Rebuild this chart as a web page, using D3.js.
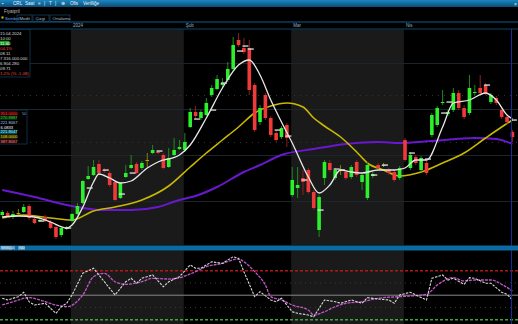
<!DOCTYPE html>
<html lang="tr">
<head>
<meta charset="UTF-8">
<title>Grafik</title>
<script src="https://d3js.org/d3.v7.min.js"></script>
<style>
  html, body { margin: 0; padding: 0; background: #000; overflow: hidden; }
  svg { display: block; font-family: "Liberation Sans", Arial, sans-serif; }
</style>
</head>
<body>
<div id="chart"></div>
<script>
// mum verileri (gunluk)
const opens = [114,115,113,115,115.5,118.5,112,111,113,110.5, 108,104,107,111,114.5,120,132,134,139.5,136.5,
  135,130.5,122.5,133,137.5,139.5,137.5,141.5,145,145.5, 144,138,144,147,146.5,158,165.5,162.5,164,174,
  177,179,181.5,187,201.5,197.5,197.5,179,160.5,174, 162.5,155,153,159,124,127.5,132.5,136.5,125.5,106.5,
  132.5,140,132.5,136.5,135.5,133,140.5,130.5,122.5,133.5, 139,139,136.5,135.5,132.5,151.5,137.5,143,136.5,140,
  154,159,170,164.5,166.5,175,167.5,165,175,177.5, 179,170.5,172.5,166.5,163,155.5];
const highs = [116.5,116,116,117,119.5,119.5,113,112.5,114,111.5, 109,108.5,108.5,115,120,131.5,138.5,141.5,141.5,137.5,
  136,131.5,130.5,139,144,140.5,141,145,149,146.5, 145,147.5,152.5,151.5,155,167.5,168.5,166.5,172.5,179,
  184,182.5,190.5,203,205,202.5,201.5,180,169,175, 163.5,156.5,158.5,160,138,138,136.5,137.5,126.5,124,
  141.5,141.5,137.5,139,136.5,139,141.5,135,140.5,135.5, 140,140,137.5,136.5,138.5,152.5,145.5,144,143.5,141,
  165,168.5,176.5,166.5,177.5,176.5,169,184,179,184, 180,175,173.5,167.5,164,156.5];
const lows = [113,112.5,112,113.5,115,111.5,109.5,110.5,110.5,107, 102,103,106.5,110.5,114,119.5,131.5,133.5,134,135,
  128,121,122,132.5,137,134.5,136.5,138,144.5,144.5, 137,137.5,143.5,146.5,145.5,157.5,162,161.5,163.5,173,
  176.5,177.5,180.5,186,198,194.5,174,155.5,159,161.5, 153,150.5,152,148,123,122.5,124,124.5,116.5,103,
  129,135.5,131.5,134,131.5,132,133,126.5,121.5,132.5, 136.5,138,134,130.5,131.5,140.5,136.5,139,135.5,134,
  153,158,169,163.5,165.5,166.5,162,164,174,174, 174,169.5,169,162,159.5,150.5];
const closes = [115.5,113.5,114.5,115,118,112.5,110,111.5,111,107.5, 103,107.5,107.5,114.5,118.5,131,133.5,138,135,136,
  129,121.5,130,135,139,135,140,141.5,146.5,145, 137.5,142.5,146.5,148,150.5,165.5,163.5,165.5,170,177.5,
  182,180,187,199,199,195.5,176.5,156.5,167.5,162.5, 154,151.5,157.5,152.5,131.5,129,130.5,125.5,117.5,123,
  140.5,136.5,136.5,136.5,132.5,138,134,134,139,134.5, 137.5,139,135,131.5,137.5,141.5,144,140,142.5,135,
  164,167.5,170.5,165.5,175,167.5,163,177.5,175.5,175, 175,174,170,163,160.5,153];

// beyaz isaretler [gun, fiyat]
const marks = [[7,111],[12,107.5],[16,127.5],[19,136.5],[22,124.5],[24,135],[29,146],[36,162],[39,166.5],[41,180],
  [44,196],[45,198.5],[46,197],[51,156.5],[53,153.5],[56,131.5],[59,116.5],[62,137],[63,136.5],[69,134],
  [71,139],[76,145],[79,142],[82,165],[83,170.5],[90,179],[95,161.5]];

// hareketli ortalamalar [gun, deger]
const maFast = [[0,113],[3,113.5],[6,113],[9,110.5],[12,107.5],[13,109],[15,118],[17,130.5],[18,134.5],[20,132.5],
  [22,130],[24,131],[27,137.5],[29,140.5],[33,144],[35,149],[38,162.5],[41,177.5],[44,189],[46,191.5],
  [48,184],[50,171.5],[52,160.5],[54,150],[57,133],[59,125],[61,129],[63,136.5],[65,135.5],[67,135],
  [70,136.5],[73,136.5],[75,137.5],[77,141.5],[79,141.5],[82,158],[84,170],[87,171.5],[90,175],[92,171.5],[94,164],[95,162]];
const maMid = [[0,112.5],[4,114],[9,112.5],[13,111.5],[17,116],[21,118],[26,121.5],[31,128.5],[35,138],[38,145],
  [41,151.5],[44,158],[47,165],[50,168.5],[53,170],[56,168],[58,162.5],[60,158.5],[63,153],[66,145.5],
  [68,140],[71,136.5],[74,133.5],[78,135.5],[82,140],[86,145],[90,152.5],[93,158],[95,161.5]];
const maSlow = [[0,126.5],[6,123],[12,119],[15,117.5],[18,116.5],[24,116.5],[29,118],[33,121.5],[36,123.5],[40,128],
  [45,135.5],[48,139],[52,144],[58,147],[64,149.5],[70,150.5],[74,150],[80,151],[88,152.5],[92,152],[95,149.5]];

// osilator [gun, deger]
const oscMain = [[0,47.5],[1,46.1],[3,48.8],[4,52.4],[5,44.7],[6,42],[8,43.4],[10,35.2],[11,40.6],[12,43.4],
  [13,50.2],[15,67.9],[17,72],[18,66.5],[20,55.6],[21,50.2],[23,61],[24,63.8],[25,59.7],[26,63.8],
  [28,66.5],[30,56.9],[31,61],[33,65.1],[35,74.7],[36,72],[37,72],[39,77.3],[41,76],[43,81.4],
  [44,80.1],[45,69.2],[47,48.8],[48,52.9],[50,46.1],[51,44.7],[52,47.5],[54,36.5],[55,35.2],[57,33.8],
  [58,32.4],[60,46.1],[62,44.7],[63,43.4],[65,46.1],[67,43.4],[68,48],[70,46.9],[72,46.1],[73,43.4],
  [74,50.2],[76,52.4],[77,50.2],[79,46.1],[80,63.8],[82,66.5],[83,62.4],[84,63.8],[86,58.9],[87,64.3],
  [88,63.8],[90,59.7],[91,59.7],[93,52.4],[94,50.7],[95,46.1]];
const oscSignal = [[0,42],[2,44.7],[5,48],[7,46.1],[10,42],[12,40.6],[15,50.2],[17,65.1],[19,67.9],[21,61],
  [23,58.9],[26,61],[28,63.8],[31,63.2],[33,64.3],[36,69.2],[38,73.3],[41,76],[44,79.6],[45,77.3],
  [47,69.2],[49,58.3],[50,48.8],[52,46.1],[54,42],[57,37.9],[58,33.8],[60,36.5],[62,40.6],[64,43.4],
  [67,44.7],[70,47.5],[74,48.8],[79,50.7],[81,58.3],[84,64.3],[86,61.6],[88,62.4],[91,62.4],[93,58.9],[95,53.4]];
const oscLevels = [70, 50, 30];
const oscDotted = [60, 40];

// eksen
const monthLabels = ["2024", "Şub", "Mar", "Nis"];
const monthStarts = [13, 34, 54, 75];
const gridPrices = [190, 167, 144, 121];
const dotPrices = [174, 150.5];

const infoLines = ["15.04.2024", "10:00", "11.60", "04.1%", "08.11", "7.316.000.000", "6.904.280", "09.71", "1.2% (% -1.08)"];
const infoColors = ["#ddd", "#ddd", "#fff", "#ff4040", "#ddd", "#ddd", "#ddd", "#ddd", "#ff4040"];
const infoBg = [null, null, "#16a016", null, null, null, null, null, null];
const legendLines = ["351.0000", "270.8887", "221.8067", "6.0833", "221.8047", "108.0000", "387.8067"];
const legendColors = ["#ff3030", "#30d030", "#a0c8ff", "#fff", "#9ff", "#e0d020", "#ff8080"];
const legendBg = ["#3a0000", "#0a2a0a", null, null, "#0a4a5a", "#2a2a00", "#2a0a0a"];

const W = 518, H = 324;
const N = opens.length;

const svg = d3.select("#chart").append("svg")
  .attr("width", W)
  .attr("height", H);

const defs = svg.append("defs");
const grad = defs.append("linearGradient").attr("id", "bar").attr("x1", 0).attr("x2", 0).attr("y1", 0).attr("y2", 1);
grad.append("stop").attr("offset", "0%").attr("stop-color", "#1c86c0");
grad.append("stop").attr("offset", "100%").attr("stop-color", "#0a4d78");
defs.append("clipPath").attr("id", "clipMain").append("rect").attr("x", 0).attr("y", 29.5).attr("width", W).attr("height", 215.5);
defs.append("clipPath").attr("id", "clipOsc").append("rect").attr("x", 0).attr("y", 250.5).attr("width", W).attr("height", 74);

svg.append("rect").attr("width", W).attr("height", H).attr("fill", "#000");

const x = d3.scaleLinear().domain([0, N - 1]).range([2.26, 2.26 + (N - 1) * 5.37]);
const y = d3.scaleLinear().domain([100, 207]).range([243, 29]);
const yo = d3.scaleLinear().domain([30, 70]).range([319.7, 270.7]);

// ay bantlari
const bands = monthStarts.map((s, k) => ({
  x0: x(s - 0.2),
  x1: k < monthStarts.length - 1 ? x(monthStarts[k + 1] - 0.2) : W,
  k: k
}));
[[29.5, 245], [250.5, 324]].forEach(([t, b]) => {
  svg.selectAll(null)
    .data(bands.filter(d => d.k % 2 === 0))
    .enter()
    .append("rect")
    .attr("x", d => d.x0)
    .attr("y", t)
    .attr("width", d => d.x1 - d.x0)
    .attr("height", b - t)
    .attr("fill", "#1a1a1a");
});

// izgara
svg.selectAll(".grid")
  .data(gridPrices)
  .enter()
  .append("line")
  .attr("x1", 0).attr("x2", W)
  .attr("y1", d => Math.round(y(d)) + 0.5)
  .attr("y2", d => Math.round(y(d)) + 0.5)
  .attr("stroke", "#1d252c")
  .attr("stroke-width", 1);

svg.selectAll(".dotg")
  .data(dotPrices)
  .enter()
  .append("line")
  .attr("x1", 0).attr("x2", W)
  .attr("y1", d => Math.round(y(d)) + 0.5)
  .attr("y2", d => Math.round(y(d)) + 0.5)
  .attr("stroke", "#333")
  .attr("stroke-dasharray", "1,5");

const plot = svg.append("g").attr("clip-path", "url(#clipMain)");

// ortalama cizgileri
const line = d3.line().x(d => x(d[0])).y(d => y(d[1])).curve(d3.curveMonotoneX);
plot.append("path").attr("d", line(maSlow)).attr("fill", "none").attr("stroke", "#6a18d0").attr("stroke-width", 2);
plot.append("path").attr("d", line(maMid)).attr("fill", "none").attr("stroke", "#c8b800").attr("stroke-width", 1.6);

// mumlar
const candles = d3.range(N).map(i => ({ i, o: opens[i], h: highs[i], l: lows[i], c: closes[i] }));
const bodyColor = d => d.c > d.o ? "#2cf02c" : (d.c < d.o ? "#f03a3a" : "#b8a800");
const wickColor = d => d.c > d.o ? "#1f8a1f" : (d.c < d.o ? "#8a2020" : "#8a7d00");

plot.selectAll(".wick")
  .data(candles)
  .enter()
  .append("line")
  .attr("x1", d => x(d.i)).attr("x2", d => x(d.i))
  .attr("y1", d => y(d.h)).attr("y2", d => y(d.l))
  .attr("stroke", wickColor)
  .attr("stroke-width", 1);

plot.selectAll(".body")
  .data(candles)
  .enter()
  .append("rect")
  .attr("x", d => x(d.i) - 1.8)
  .attr("width", 3.6)
  .attr("y", d => y(Math.max(d.o, d.c)))
  .attr("height", d => Math.max(1, Math.abs(y(d.o) - y(d.c))))
  .attr("fill", bodyColor);

plot.append("path").attr("d", line(maFast)).attr("fill", "none").attr("stroke", "#e8e8e8").attr("stroke-width", 1.3);

plot.selectAll(".mark")
  .data(marks)
  .enter()
  .append("rect")
  .attr("x", d => x(d[0]) - 1.5)
  .attr("y", d => y(d[1]) - 0.6)
  .attr("width", 6)
  .attr("height", 1.3)
  .attr("fill", "#e0e0e0");

// osilator
const og = svg.append("g").attr("clip-path", "url(#clipOsc)");
og.selectAll(".dot")
  .data(oscDotted)
  .enter()
  .append("line")
  .attr("x1", 0).attr("x2", W)
  .attr("y1", d => yo(d)).attr("y2", d => yo(d))
  .attr("stroke", "#3a3a3a")
  .attr("stroke-dasharray", "1,4");

og.selectAll(".lvl")
  .data(oscLevels)
  .enter()
  .append("line")
  .attr("x1", 0).attr("x2", W)
  .attr("y1", d => yo(d)).attr("y2", d => yo(d))
  .attr("stroke", (d, k) => ["#b01818", "#888", "#3aa83a"][k])
  .attr("stroke-width", (d, k) => k === 1 ? 1 : 1.6)
  .attr("stroke-dasharray", (d, k) => k === 1 ? null : "3,2");

const oline = d3.line().x(d => x(d[0])).y(d => yo(d[1]));
og.append("path").attr("d", oline.curve(d3.curveMonotoneX)(oscSignal))
  .attr("fill", "none").attr("stroke", "#c455c8").attr("stroke-width", 1.3).attr("stroke-dasharray", "3,1");
og.append("path").attr("d", oline.curve(d3.curveLinear)(oscMain))
  .attr("fill", "none").attr("stroke", "#d8d8d8").attr("stroke-width", 1.1).attr("stroke-dasharray", "2.5,1.2");

// imlec
svg.append("line").attr("x1", 511.5).attr("x2", 511.5).attr("y1", 29).attr("y2", H)
  .attr("stroke", "#1a2a9a").attr("stroke-width", 1);

// ust arac cubugu
svg.append("rect").attr("width", W).attr("height", 7).attr("fill", "url(#bar)");
const tools = [["▪", 2], ["CRL", 13], ["Saat", 25], ["≡", 38], ["|", 44], ["T", 49], ["|", 55], ["⊕", 61], ["Ofis", 70], ["Verilliğe", 83]];
svg.selectAll(".tool")
  .data(tools)
  .enter()
  .append("text")
  .attr("x", d => d[1]).attr("y", 5.3)
  .attr("font-size", 4.6)
  .attr("fill", "#e8f2fa")
  .text(d => d[0]);
svg.append("text").attr("x", 514).attr("y", 5.5).attr("font-size", 5).attr("fill", "#dfe").text("×");

svg.append("text").attr("x", 4).attr("y", 12.5).attr("font-size", 4.5).attr("fill", "#bbb").text("Fiyatpril");

const tabs = [["Sembol", 1, 15, false], ["Modit", 17, 15, true], ["Çizgi", 33, 16, true], ["Ortalama", 50, 20, true]];
svg.selectAll(".tab")
  .data(tabs)
  .enter()
  .append("rect")
  .attr("x", d => d[1]).attr("y", 15).attr("width", d => d[2]).attr("height", 6.5)
  .attr("fill", "#000")
  .attr("stroke", d => d[3] ? "#1f4f70" : "none")
  .attr("stroke-width", 0.6);
svg.append("rect").attr("x", 1.5).attr("y", 16.5).attr("width", 2).attr("height", 2).attr("fill", "#e0d000");
svg.selectAll(".tabt")
  .data(tabs)
  .enter()
  .append("text")
  .attr("x", d => d[1] + (d[3] ? 2.5 : 4)).attr("y", 19.8)
  .attr("font-size", 4.3)
  .attr("fill", d => d[3] ? "#aabbcc" : "#4aa8ff")
  .text(d => d[0]);

svg.append("line").attr("x1", 0).attr("x2", W).attr("y1", 22).attr("y2", 22).attr("stroke", "#0e5c88").attr("stroke-width", 1);
svg.append("line").attr("x1", 0).attr("x2", W).attr("y1", 29).attr("y2", 29).attr("stroke", "#0c4668").attr("stroke-width", 1);

svg.selectAll(".mon")
  .data(monthLabels)
  .enter()
  .append("text")
  .attr("x", (d, k) => x(monthStarts[k] - 0.2) + 2)
  .attr("y", 27.3)
  .attr("font-size", 4.5)
  .attr("fill", "#8fb0cc")
  .text(d => d);

// sol bilgi paneli
svg.append("rect").attr("x", -1).attr("y", 29.5).attr("width", 31).attr("height", 47.5)
  .attr("fill", "#000").attr("stroke", "#0d3a58").attr("stroke-width", 0.8);
infoLines.forEach((t, k) => {
  if (infoBg[k]) {
    svg.append("rect").attr("x", 0).attr("y", 30.8 + k * 5).attr("width", 9.5).attr("height", 4.6).attr("fill", infoBg[k]);
  }
  svg.append("text").attr("x", 0).attr("y", 34.7 + k * 5).attr("font-size", 4.3).attr("fill", infoColors[k]).text(t);
});

svg.append("rect").attr("x", -1).attr("y", 110).attr("width", 28).attr("height", 34)
  .attr("fill", "#000").attr("stroke", "#0d3a58").attr("stroke-width", 0.8);
legendLines.forEach((t, k) => {
  if (legendBg[k]) {
    svg.append("rect").attr("x", 0).attr("y", 111 + k * 4.7).attr("width", 17).attr("height", 4.3).attr("fill", legendBg[k]);
  }
  svg.append("text").attr("x", 0.5).attr("y", 114.6 + k * 4.7).attr("font-size", 4.1).attr("fill", legendColors[k]).text(t);
});
svg.append("text").attr("x", 22).attr("y", 114.5).attr("font-size", 3.8).attr("fill", "#7fa0c0").text("50");

// osilator basligi
svg.append("rect").attr("x", 0).attr("y", 245.5).attr("width", W).attr("height", 5).attr("fill", "#0b6aa2");
svg.append("rect").attr("x", 0.5).attr("y", 246.2).attr("width", 12).attr("height", 3.6).attr("fill", "#5b9cc4");
svg.append("text").attr("x", 1).attr("y", 249.3).attr("font-size", 3.4).attr("fill", "#eaf4ff").text("SRSI(14)");
svg.append("rect").attr("x", 18).attr("y", 246.2).attr("width", 7).attr("height", 3.6).attr("fill", "#5b9cc4");
svg.append("text").attr("x", 19).attr("y", 249.3).attr("font-size", 3.4).attr("fill", "#eaf4ff").text("%D");
</script>
</body>
</html>
